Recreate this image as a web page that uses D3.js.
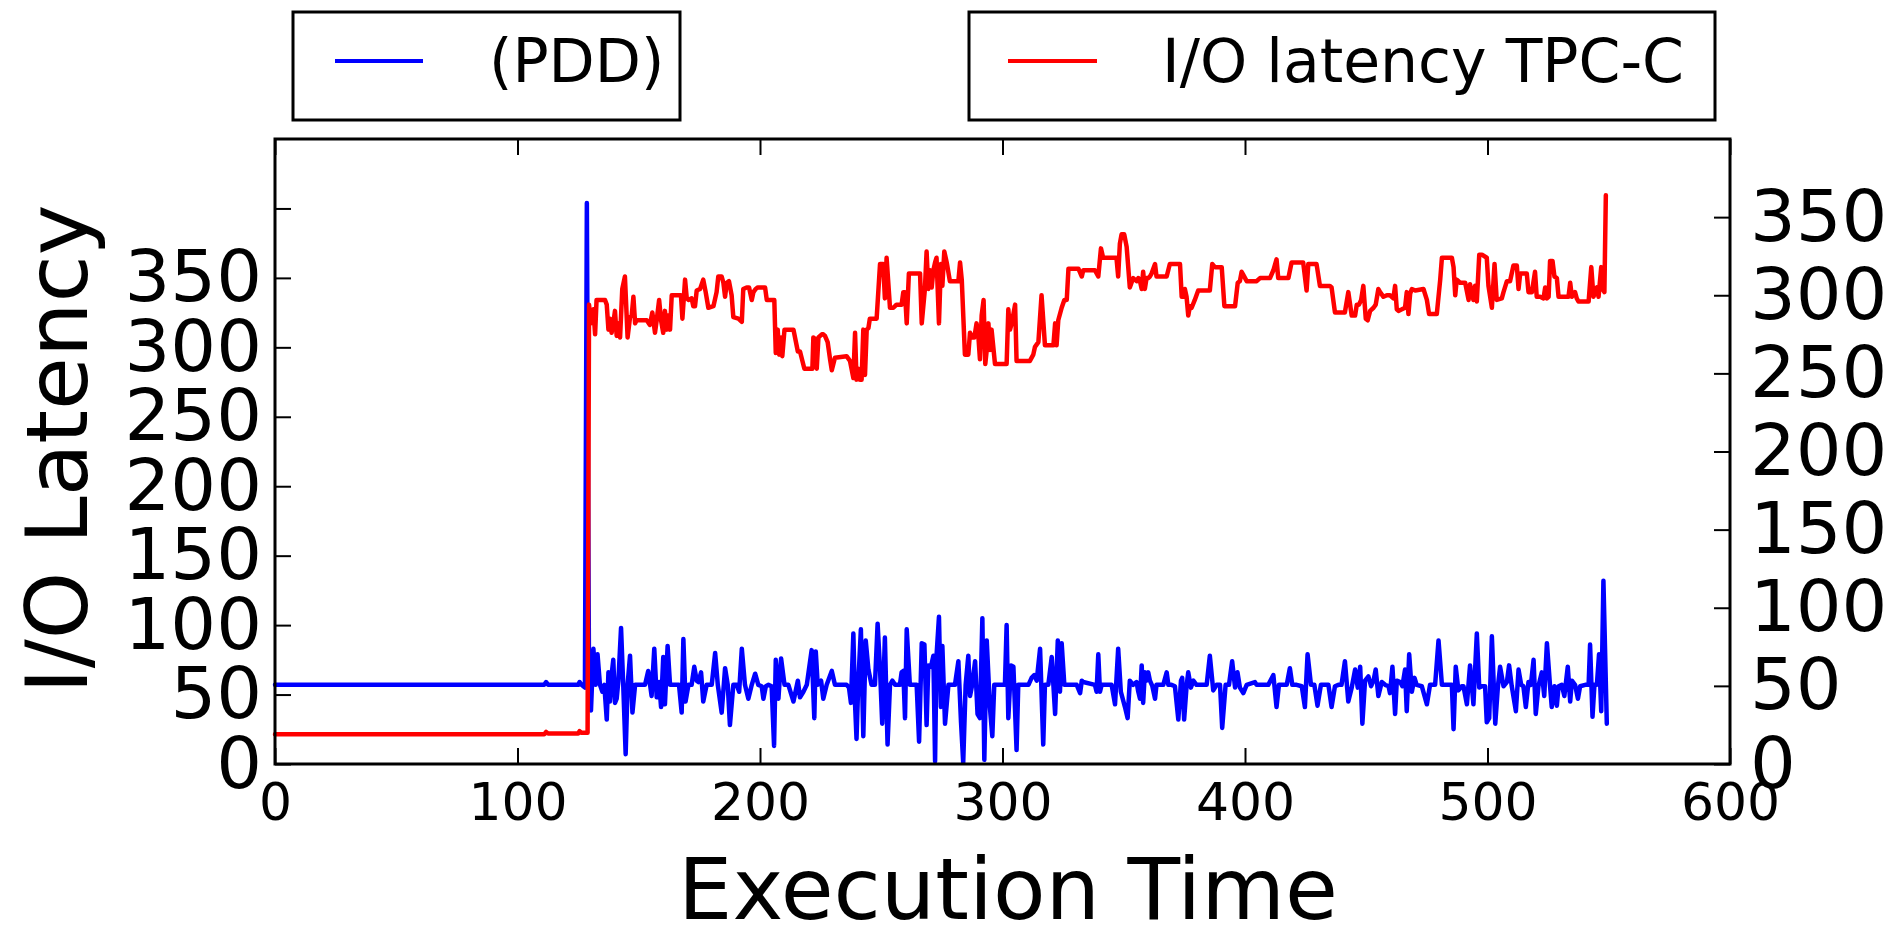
<!DOCTYPE html>
<html>
<head>
<meta charset="utf-8">
<script src="https://cdn.jsdelivr.net/npm/d3@7"></script>
<style>
  body { margin: 0; background: #fff; }
  svg { display: block; }
  text { font-family: "DejaVu Sans", sans-serif; fill: #000; }
</style>
</head>
<body>
<svg id="chart" width="1894" height="925"></svg>
<script>
// [execution time, latency] samples, PDD (left axis)
const pddPoints = [
  [0,57],[111,57],[111.8,59],[112.6,57],[125,57],[125.6,59],[126.4,57],[127.8,55],[128.6,404],[129.5,58],[130.3,38.5],[131.3,83],[132.2,57],[133,79],[134,57],[135,52],[135.8,57],[136.8,32],[137.5,66],[138.1,45],[138.8,64],[139.5,75],[140.2,44],[140.9,47],[141.6,60],[142.7,98],[143.6,57],[144.6,7],[145.4,57],[146.4,78],[147.4,37],[148.5,57],[152.6,57],[153.9,67],[155.3,49],[156.4,83],[157.4,48],[158.4,59],[159.2,41],[160.1,77],[160.8,43],[161.9,85],[162.9,57],[166.6,57],[167.7,37],[168.4,90],[169.3,45],[170.5,57],[171.8,57],[172.9,70],[173.9,60],[174.6,59],[175.7,66],[176.6,45],[178,57],[180.1,57],[181.5,80],[182.6,57],[184.2,37],[185.6,69],[186.7,57],[187.6,28],[189,57],[190.4,57],[191.4,52],[192.5,83],[193.8,57],[195.2,47],[196.6,57],[198,65],[199.3,57],[200.7,56],[201.4,47],[202.4,56],[203.5,57],[204.8,56],[205.8,13],[206.5,75],[207.6,47],[208.7,76],[210.1,57],[211.7,57],[213.8,45],[215.6,60],[216.5,48],[217.9,52],[219.3,57],[221.3,82],[222.4,33],[223,81],[223.8,57],[225.2,60],[226.1,47],[227.5,57],[229.6,67],[230.9,57],
  [235.7,57],[236.7,55],[237.5,44],[238.5,94],[239.2,43],[239.8,18],[240.5,57],[241.6,97],[242.6,20],[243.6,89],[244.7,68],[246,57],[247.4,57],[248.5,101],[249.5,68],[250.4,29],[251.5,91],[252.6,14],[253.6,57],[254.6,60],[255.7,57],[257.7,57],[258.4,66],[259.1,67],[259.8,33],[260.5,97],[261.8,57],[264.6,57],[265.6,16],[266.7,87],[267.8,86],[268.7,28],[269.4,71],[270.5,70],[271.5,78],[272.2,2],[272.8,78],[273.8,106],[274.6,41],[275.2,85],[276.3,29],[277.7,57],[280.4,57],[281.8,74],[282.9,30],[283.8,1],[284.8,57],[285.9,78],[286.6,49],[287.5,57],[288.7,74],[289.7,36],[290.7,33],[291.7,105],[292.5,3],[293.5,89],[294.8,41],[295.8,20],[296.6,57],[301,57],[301.7,100],[302.4,33],[303.5,71],[304.5,70],[305.8,10],[306.5,57],[310.7,57],[312,62],[313.1,64],[314.1,60],[315.5,83],[316.8,14],[317.5,57],[318.9,57],[320.3,77],[321.7,36],[322.8,89],[323.7,52],[324.4,87],[325.5,57],[330.6,57],[332,51],[332.7,60],[333.3,59],[338.1,57],
  [338.8,52],[339.5,79],[340.2,52],[340.9,57],[345,57],[346.4,43],[347.7,83],[348.8,52],[350.5,41],[351.6,33],[352.5,60],[353.9,57],[355.3,59],[356,52],[356.7,47],[357.4,71],[358,44],[358.7,66],[359.4,60],[360.1,66],[360.8,60],[361.8,56],[362.9,47],[363.5,57],[366.3,57],[367.7,66],[368.4,57],[369.7,57],[371.1,56],[372.5,32],[373.6,60],[374.1,62],[374.9,32],[375.9,56],[376.6,66],[377.7,55],[378.7,60],[380,57],[384.2,57],[385.5,78],[386.9,53],[388.3,57],[389.7,57],[390.6,26],[392,57],[393.4,57],[394.7,74],[395.9,55],[396.9,66],[397.9,55],[399.3,51],[400.7,57],[404.1,59],[404.8,57],[409.6,57],[411.7,64],[413,41],[414,57],[417.2,57],[418.5,69],[419.5,57],[421.3,57],[423.4,56],[424.7,41],[425.8,79],[427.2,57],[428.6,57],[429.9,42],[431.3,57],[434.4,57],[435.7,41],[437.1,56],[438.5,57],[439.8,57],[441.2,74],[442.6,45],[444,55],[445.4,68],
  [446.5,55],[447.5,70],[448.4,29],[449.5,60],[450.9,63],[452,56],[453,60],[453.9,68],[455,49],[456.4,59],[457.8,57],[459.2,56],[459.8,51],[460.8,70],[461.9,36],[462.6,60],[464,59],[464.9,56],[466,68],[466.7,38],[467.7,79],[468.8,52],[469.9,62],[470.8,57],[472.9,56],[475,43],[476.3,57],[478.4,57],[479.8,89],[481.2,57],[485.3,57],[486,25],[486.9,70],[488,53],[489.4,56],[490.1,56],[491.5,43],[492.8,71],[494.2,43],[495.6,94],[496.6,55],[497.7,56],[499,56],[499.7,30],[500.7,33],[501.8,92],[503.2,29],[504.3,56],[505.2,70],[506.6,56],[508,59],[508.9,71],[510,56],[511.7,38],[512.8,68],[513.9,57],[514.8,56],[515.8,41],[516.9,59],[517.9,57],[519,75],[519.9,36],[521,56],[522.4,66],[523.4,49],[524.5,87],[525.8,56],[526.5,41],[527.6,56],[528.6,42],[529.3,56],[530.6,57],[531.7,49],[533.1,70],[534.1,45],[534.8,60],[536.1,57],[537.3,47],[538.2,56],[540.3,57],[541.7,57],[542.3,86],[543.3,34],[544.1,57],[545.1,57],[546,79],[546.9,38],[547.8,132],[549.2,29]
];

// [execution time, latency] samples, TPC-C (right axis)
const tpccPoints = [
  [0,19],[111,19],[111.8,20.5],[112.6,19.5],[125,19.5],[125.6,21],[126.4,20],[128.9,20],[129.5,294],[130.3,282],[131.3,291],[132,275],[132.6,297],[136.1,297],[136.8,294],[137.5,278],[138.1,285],[138.8,276],[139.5,282],[140.2,290],[140.9,274],[141.6,282],[142.3,273],[143.2,304],[144.3,312],[145.4,273],[146.4,286],[147.1,287],[147.8,299],[148.5,282],[149.1,284],[153.3,284],[154.6,281],[155.6,289],[156.7,276],[157.4,284],[158.4,297],[159.2,284],[160.1,276],[160.8,290],[161.5,278],[162.2,287],[162.9,278],[163.6,300],[167.4,300],[168,285],[169.1,310],[169.8,298],[170.5,297],[171.8,298],[172.5,293],[173.2,293],[173.9,303],[175.3,304],[176.6,310],[177.6,302],[178.7,292],[180.8,293],[182.1,302],[182.8,312],[184.2,312],[184.9,308],[185.6,299],[186.3,308],[187.2,309],[188.3,300],[189,286],[191.1,285],[192.5,283],[193.1,304],[194.5,305],[195.5,305],[196.6,297],[197.3,302],[198.2,304],[199.1,305],[202.1,305],[202.8,297],[205.9,297],[206.5,263],[207.3,278],[207.9,262],[208.7,273],[209.2,261],[210.1,278],[213.8,278],[215.6,264],[216.5,264],[218.3,253],[221.6,253],[222,273],[222.7,272],[223.4,253],[224.1,273],[225.5,275],[226.1,275],[226.8,274],[227.9,270],[228.9,259],[229.6,252],[230.9,260],
  [235.7,261],[237.1,258],[238.5,247],[239.2,276],[239.8,246],[240.5,253],[241.2,246],[241.9,246],[242.6,278],[243.3,249],[244,278],[244.7,279],[245.3,285],[248.1,285],[249.5,320],[250.8,320],[251.5,298],[252.2,324],[253.6,292],[255,292],[256.3,294],[258.4,294],[259.1,302],[259.8,302],[260.5,282],[261.4,314],[266,314],[266.7,282],[268,304],[268.7,328],[269.4,304],[270.1,316],[270.8,305],[271.5,316],[272.2,321],[272.8,324],[273.8,282],[274.6,320],[275.2,306],[276,328],[277,321],[278.3,309],[281.8,309],[282.5,321],[283.2,310],[284.5,262],[285.9,262],[286.6,276],[287.5,273],[288.4,273],[289.3,282],[290,275],[290.7,259],[291.4,287],[292.2,297],[292.9,256],[293.5,265],[294.2,282],[294.8,265],[295.5,278],[296.9,256],[301.7,256],[302.4,291],[303.1,278],[303.8,282],[305.2,294],[305.8,258],[311.3,258],[312.7,262],[313.4,267],[314.8,270],[316.1,300],[317.5,268],[321,268],[321.7,282],[322.3,268],[323,284],[324.4,292],[325.5,297],[326.5,297],[327.2,317],[331.3,317],[332.7,312],[333.3,316],[338.1,316],
  [339.5,312],[340.6,330],[341.5,324],[347,324],[347.7,312],[348.4,333],[349.1,339],[350.2,339],[351.2,331],[352.5,305],[353.9,311],[355.3,309],[356,311],[356.7,309],[357.4,304],[358,315],[358.7,304],[359.4,311],[360.1,311],[360.8,312],[361.5,314],[362.9,320],[363.5,312],[367.7,312],[369,320],[373.2,320],[373.9,299],[374.5,299],[375.2,304],[375.9,299],[376.6,287],[377.3,293],[378,292],[379.3,297],[380.7,303],[385.5,303],[386.5,320],[387.6,318],[390.4,318],[391.5,293],[395.9,293],[397,308],[397.9,309],[398.6,315],[399.3,313],[400.7,309],[404.8,309],[406.2,311],[410.3,311],[411.7,316],[413,323],[413.7,311],[417.9,311],[419.2,321],[424,321],[425.4,303],[426.1,320],[429.5,320],[430.9,306],[435,306],[435.7,305],[437.1,289],[441.2,289],[442.6,302],[444,287],[445.4,287],
  [446.1,294],[447,294],[447.9,297],[448.8,306],[449.8,285],[450.6,284],[451.6,290],[453,292],[453.9,294],[455,304],[455.7,302],[457.1,299],[458.5,300],[459.8,300],[461.2,298],[461.9,306],[462.6,291],[463.3,290],[464.7,291],[466,292],[466.7,302],[467.4,288],[468.1,301],[468.8,304],[470.2,303],[473.6,304],[475,297],[475.9,288],[479.1,288],[480.5,310],[481.2,324],[485.3,324],[486,318],[486.7,300],[487.3,310],[488.7,308],[490.8,308],[492.2,297],[492.8,307],[494.2,297],[494.9,306],[495.6,296],[496.6,326],[497.7,326],[499.7,324],[500.4,306],[501.8,292],[502.9,320],[503.8,297],[505.9,298],[506.6,302],[508,309],[509.3,309],[510.7,319],[512.1,319],[512.8,304],[513.5,314],[514.8,314],[516.2,314],[516.9,302],[518.3,302],[519.6,315],[520.3,299],[521.7,299],[523.1,298],[523.8,305],[524.5,298],[525.2,299],[525.8,322],[526.8,322],[527.6,312],[528.6,311],[529.3,299],[533.4,299],[534.1,308],[534.8,299],[536.1,302],[536.8,298],[537.5,296],[541.7,296],[542.8,318],[543.7,299],[545.1,305],[545.8,299],[546.9,318],[547.4,304],[548.2,302],[548.8,364]
];

const xTicks = [0, 100, 200, 300, 400, 500, 600];
const leftTicks = [0, 50, 100, 150, 200, 250, 300, 350, 400];
const leftTickLabels = ["0", "50", "100", "150", "200", "250", "300", "350"];
const rightTicks = [0, 50, 100, 150, 200, 250, 300, 350];
const rightTickLabels = ["0", "50", "100", "150", "200", "250", "300", "350"];
const seriesNames = ["(PDD)", "I/O latency TPC-C"];
const seriesColors = ["#0000ff", "#ff0000"];

const svg = d3.select("#chart");
const plot = { left: 275, right: 1730, top: 139, bottom: 764 };

const x = d3.scaleLinear().domain([0, 600]).range([plot.left, plot.right]);
const yLeft = d3.scaleLinear().domain([0, 450]).range([plot.bottom, plot.top]);
const yRight = d3.scaleLinear().domain([0, 400]).range([plot.bottom, plot.top]);

// Series lines
const lineLeft = d3.line().x(d => x(d[0])).y(d => yLeft(d[1]));
const lineRight = d3.line().x(d => x(d[0])).y(d => yRight(d[1]));

svg.append("path").datum(pddPoints)
  .attr("d", lineLeft).attr("fill", "none")
  .attr("stroke", seriesColors[0]).attr("stroke-width", 4.5)
  .attr("stroke-linejoin", "round").attr("stroke-linecap", "round");

svg.append("path").datum(tpccPoints)
  .attr("d", lineRight).attr("fill", "none")
  .attr("stroke", seriesColors[1]).attr("stroke-width", 4.5)
  .attr("stroke-linejoin", "round").attr("stroke-linecap", "round");

// Axes with inward ticks
function styleAxis(g, fontSize) {
  g.select(".domain").remove();
  g.selectAll(".tick line").attr("stroke", "#000").attr("stroke-width", 2);
  g.selectAll(".tick text").attr("font-size", fontSize).attr("fill", "#000")
    .attr("font-family", "DejaVu Sans, sans-serif");
}

svg.append("g").attr("transform", `translate(0,${plot.bottom})`)
  .call(d3.axisBottom(x).tickValues(xTicks).tickSize(-16).tickPadding(19).tickFormat(d3.format("d")))
  .call(g => styleAxis(g, 52));

svg.append("g").attr("transform", `translate(0,${plot.top})`)
  .call(d3.axisTop(x).tickValues(xTicks).tickSize(-16).tickFormat(""))
  .call(g => styleAxis(g, 52));

svg.append("g").attr("transform", `translate(${plot.left},0)`)
  .call(d3.axisLeft(yLeft).tickValues(leftTicks).tickSize(-16).tickPadding(13)
    .tickFormat((d, i) => leftTickLabels[i] || ""))
  .call(g => styleAxis(g, 72));

svg.append("g").attr("transform", `translate(${plot.right},0)`)
  .call(d3.axisRight(yRight).tickValues(rightTicks).tickSize(-16).tickPadding(20)
    .tickFormat((d, i) => rightTickLabels[i] || ""))
  .call(g => styleAxis(g, 72));

// Plot frame
svg.append("rect")
  .attr("x", plot.left).attr("y", plot.top)
  .attr("width", plot.right - plot.left).attr("height", plot.bottom - plot.top)
  .attr("fill", "none").attr("stroke", "#000").attr("stroke-width", 3);

// Axis titles
svg.append("text")
  .attr("x", 1008).attr("y", 919)
  .attr("text-anchor", "middle").attr("font-size", 86)
  .text("Execution Time");

svg.append("text")
  .attr("transform", "translate(87,449) rotate(-90)")
  .attr("text-anchor", "middle").attr("font-size", 86)
  .text("I/O Latency");

// Legends above the plot
const legends = [
  { x0: 293, x1: 680, hx0: 335, hx1: 423, tx: 489 },
  { x0: 969, x1: 1715, hx0: 1008, hx1: 1097, tx: 1162 }
];
legends.forEach((l, i) => {
  const g = svg.append("g");
  g.append("rect").attr("x", l.x0).attr("y", 12)
    .attr("width", l.x1 - l.x0).attr("height", 108)
    .attr("fill", "#fff").attr("stroke", "#000").attr("stroke-width", 3);
  g.append("line").attr("x1", l.hx0).attr("x2", l.hx1).attr("y1", 61).attr("y2", 61)
    .attr("stroke", seriesColors[i]).attr("stroke-width", 4);
  g.append("text").attr("x", l.tx).attr("y", 82).attr("font-size", 60).text(seriesNames[i]);
});
</script>
</body>
</html>
